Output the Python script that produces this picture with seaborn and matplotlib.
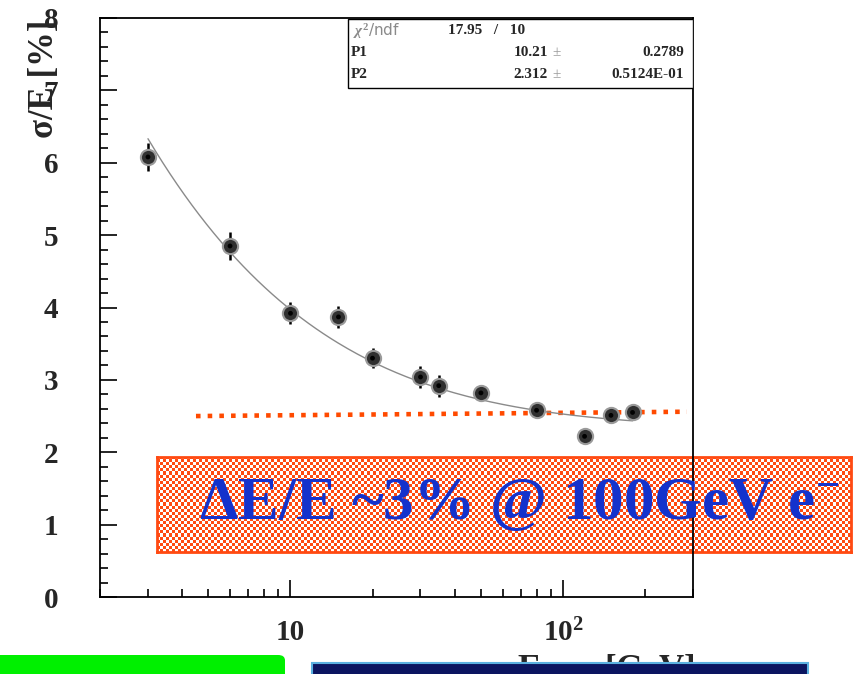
import numpy as np
import pandas as pd
import matplotlib
matplotlib.use("Agg")
import matplotlib.pyplot as plt
from matplotlib.colors import ListedColormap
from matplotlib.patches import Rectangle, FancyBboxPatch
from matplotlib.ticker import FixedLocator, MultipleLocator, NullFormatter, LogLocator
import seaborn as sns

# beam energy [GeV], resolution sigma/E [%], error
energy = [3, 6, 10, 15, 20, 30, 35, 50, 80, 120, 150, 180]
resolution = [6.08, 4.85, 3.92, 3.87, 3.30, 3.04, 2.92, 2.82, 2.58, 2.22, 2.51, 2.55]
res_err = [0.19, 0.19, 0.15, 0.15, 0.14, 0.15, 0.15, 0.09, 0.07, 0.07, 0.07, 0.07]

# fit parameters shown in the stats box: sigma/E = sqrt((P1/sqrt(E))^2 + P2^2)
p1, p2 = 10.21, 2.312
fit_range = (3, 180)

# hand drawn "3 %" reference line (orange dots)
ref_x = [4.5, 285]
ref_y = [2.50, 2.56]

df = pd.DataFrame({"E": energy, "res": resolution, "err": res_err})
e_fit = np.geomspace(*fit_range, 200)
fit = pd.DataFrame({"E": e_fit, "res": np.sqrt((p1 / np.sqrt(e_fit)) ** 2 + p2 ** 2)})

sns.set_style("ticks")
plt.rcParams["font.family"] = ["Liberation Serif", "DejaVu Serif"]
plt.rcParams["mathtext.fontset"] = "custom"
plt.rcParams["mathtext.rm"] = "Liberation Serif:bold"
plt.rcParams["mathtext.bf"] = "Liberation Serif:bold"
plt.rcParams["mathtext.it"] = "Liberation Serif:bold:italic"

W, H = 856, 674
fig = plt.figure(figsize=(W / 100, H / 100), dpi=100)
fig.patch.set_facecolor("white")

# checkered annotation box (behind the main axes)
bx0, by0, bx1, by1 = 157, 457, 851, 552
box_ax = fig.add_axes([bx0 / W, 1 - by1 / H, (bx1 - bx0) / W, (by1 - by0) / H], zorder=-1)
nx, ny = (bx1 - bx0) // 3, (by1 - by0) // 3
checker = np.add.outer(np.arange(ny), np.arange(nx)) % 2
box_ax.imshow(checker, cmap=ListedColormap(["white", "#ff4a12"]), aspect="auto",
              interpolation="nearest")
box_ax.set_xticks([])
box_ax.set_yticks([])
for s in box_ax.spines.values():
    s.set_color("#ff4a12")
    s.set_linewidth(2)

ax = fig.add_axes([100 / W, 1 - 597 / H, 593 / W, 579 / H])
ax.set_facecolor("none")

ax.plot(ref_x, ref_y, color="#ff4a00", lw=3.3, linestyle=(0, (1.0, 1.55)),
        dash_capstyle="butt", zorder=1.5)
sns.lineplot(data=fit, x="E", y="res", color="#8a8a8a", lw=1.0, ax=ax, zorder=2)
ax.errorbar(df["E"], df["res"], yerr=df["err"], fmt="none", ecolor="black",
            elinewidth=1.8, capsize=0, zorder=3)
sns.scatterplot(data=df, x="E", y="res", s=120, color="#303030", edgecolor="#9a9a9a",
                linewidth=1.5, ax=ax, zorder=4)
sns.scatterplot(data=df, x="E", y="res", s=12, color="black", edgecolor="none",
                ax=ax, zorder=5)

ax.set_xscale("log")
ax.set_xlim(2.0, 300)
ax.set_ylim(0, 8)
ax.xaxis.set_major_locator(FixedLocator([10, 100]))
ax.set_xticklabels(["10", "10$^{2}$"])
ax.xaxis.set_minor_locator(LogLocator(base=10, subs=np.arange(2, 10)))
ax.xaxis.set_minor_formatter(NullFormatter())
ax.yaxis.set_major_locator(MultipleLocator(1))
ax.yaxis.set_minor_locator(MultipleLocator(0.2))
ax.tick_params(which="both", direction="in", top=False, right=False, color="black",
               width=1.2)
ax.tick_params(which="major", length=12)
ax.tick_params(which="minor", length=6)
ax.tick_params(axis="y", which="major", pad=30, labelsize=21)
ax.tick_params(axis="x", which="major", pad=16, labelsize=21)
for lab in ax.get_xticklabels() + ax.get_yticklabels():
    lab.set_fontweight("bold")
for s in ax.spines.values():
    s.set_linewidth(1.3)
    s.set_color("black")
ax.set_xlabel("")
ax.set_ylabel("")

# stats box in the upper right corner
sx0, sy0, sx1, sy1 = 348, 19, 693, 88
ax.add_patch(Rectangle((sx0 / W, 1 - sy1 / H), (sx1 - sx0) / W, (sy1 - sy0) / H,
                       transform=fig.transFigure, facecolor="white", edgecolor="black",
                       lw=1.0, zorder=7))
st = dict(fontsize=11, fontweight="bold", va="center", zorder=8)
fig.text(353 / W, 1 - 31 / H, r"$\chi^2$/ndf", color="#8a8a8a", fontsize=11,
         family="DejaVu Sans", va="center", zorder=8)
fig.text(448 / W, 1 - 31 / H, "17.95   /   10", **st)
fig.text(351 / W, 1 - 53 / H, "P1", **st)
fig.text(351 / W, 1 - 74 / H, "P2", **st)
fig.text(548 / W, 1 - 53 / H, "10.21", ha="right", **st)
fig.text(548 / W, 1 - 74 / H, "2.312", ha="right", **st)
fig.text(552 / W, 1 - 53 / H, "±", color="#9a9a9a", fontsize=11, va="center", zorder=8)
fig.text(552 / W, 1 - 74 / H, "±", color="#9a9a9a", fontsize=11, va="center", zorder=8)
fig.text(684 / W, 1 - 53 / H, "0.2789", ha="right", **st)
fig.text(684 / W, 1 - 74 / H, "0.5124E-01", ha="right", **st)

# axis titles (ROOT style)
fig.text(44 / W, 1 - 79 / H, "σ/E [%]", rotation=90, fontsize=25, fontweight="bold",
         ha="center", va="center")
fig.text(517 / W, 1 - 654 / H, "E$_{beam}$ [GeV]", fontsize=25, fontweight="bold",
         ha="left", va="top")

# big annotation text on the checkered box
fig.text(519 / W, 1 - 505 / H, "ΔE/E ~3% @ 100GeV e$^{-}$", color="#1432cc",
         fontsize=44, fontweight="bold", ha="center", va="center", zorder=10)

# slide decorations at the bottom
fig.patches.append(FancyBboxPatch((-10 / W, -10 / H), 295 / W, 29 / H,
                                  boxstyle="round,pad=0,rounding_size=0.008",
                                  transform=fig.transFigure, facecolor="#00f000",
                                  edgecolor="none", zorder=20))
fig.patches.append(Rectangle((312 / W, -2 / H), 496 / W, 13 / H, transform=fig.transFigure,
                             facecolor="#0b1560", edgecolor="#5ab0e0", lw=1.5, zorder=20))

fig.savefig("out.png", dpi=100, facecolor="white")
